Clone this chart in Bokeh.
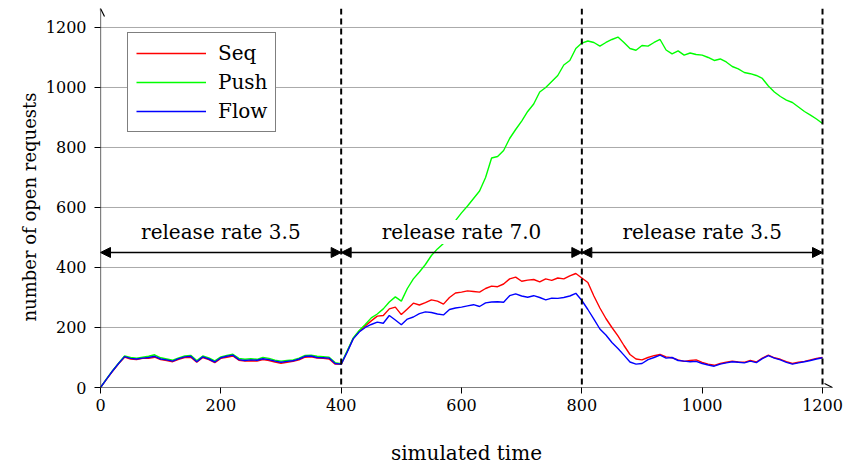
from bokeh.plotting import figure
from bokeh.models import Range1d, Span, Arrow, NormalHead, OpenHead, Label, FixedTicker, Title
from bokeh.embed import file_html
from bokeh.resources import INLINE

# ---- data ----
time = list(range(0, 1201, 10))

flow = [0, 28, 55, 80, 103, 97, 95, 98, 100, 104,
        95, 92, 88, 96, 102, 104, 86, 102, 95, 85,
        99, 104, 108, 93, 90, 92, 91, 96, 93, 88,
        84, 87, 89, 95, 104, 105, 100, 99, 98, 80,
        78, 118, 162, 185, 200, 210, 218, 214, 240, 225,
        209, 228, 235, 246, 252, 250, 245, 242, 260, 265,
        268, 272, 276, 270, 282, 285, 286, 284, 306, 312,
        305, 301, 306, 300, 292, 298, 297, 300, 305, 314,
        290, 260, 228, 195, 175, 150, 130, 108, 85, 78,
        80, 93, 100, 108, 98, 100, 90, 88, 86, 87,
        80, 75, 71, 78, 82, 86, 84, 82, 88, 83,
        96, 106, 98, 92, 84, 78, 82, 86, 90, 95,
        99]

seq = [0, 27, 54, 79, 101, 95, 93, 97, 97, 101,
       93, 90, 86, 94, 100, 101, 84, 100, 93, 83,
       97, 101, 105, 91, 88, 89, 88, 93, 90, 85,
       81, 84, 87, 92, 101, 102, 98, 97, 95, 78,
       77, 120, 163, 188, 205, 222, 238, 240, 262, 268,
       243, 262, 281, 275, 283, 292, 288, 278, 300, 315,
       318, 322, 320, 318, 330, 338, 336, 345, 362, 368,
       354, 358, 360, 352, 362, 357, 365, 362, 372, 380,
       365, 350, 305, 265, 230, 200, 172, 140, 110, 95,
       92, 100, 106, 110, 102, 99, 92, 87, 90, 92,
       84, 78, 74, 80, 84, 88, 85, 84, 90, 85,
       98, 108, 99, 94, 86, 80, 84, 87, 92, 97,
       100]

push = [0, 29, 56, 81, 105, 100, 98, 101, 104, 109,
        99, 95, 91, 99, 105, 107, 90, 105, 99, 89,
        102, 107, 111, 97, 94, 96, 94, 100, 97, 91,
        88, 90, 92, 98, 107, 108, 104, 103, 101, 83,
        79, 122, 165, 190, 210, 232, 245, 262, 285, 302,
        288, 330, 362, 385, 410, 440, 462, 480, 520, 556,
        582, 605, 630, 655, 700, 765, 770, 790, 830, 860,
        888, 920, 945, 985, 1000, 1020, 1040, 1075, 1090, 1130,
        1148, 1155, 1150, 1138, 1150, 1160, 1168, 1150, 1130, 1124,
        1140, 1138, 1150, 1160, 1125, 1112, 1122, 1108, 1115, 1110,
        1108, 1100, 1090, 1095, 1085, 1070, 1062, 1050, 1046, 1040,
        1030, 1005, 985, 970, 958, 950, 935, 920, 908, 895,
        880]

x_ticks = [0, 200, 400, 600, 800, 1000, 1200]
y_ticks = [0, 200, 400, 600, 800, 1000, 1200]
grid_levels = [200, 400, 600, 800, 1000, 1200]
phase_bounds = [0, 400, 800, 1200]
phase_labels = ["release rate 3.5", "release rate 7.0", "release rate 3.5"]
arrow_level = 450
label_level = 518

FONT = "DejaVu Serif"
TXT = "20px"

X_END = 1216.6
Y_END = 1263.3

p = figure(width=847, height=467, output_backend="svg", toolbar_location=None,
           x_range=Range1d(0, X_END), y_range=Range1d(0, Y_END),
           min_border_left=100, min_border_right=15, min_border_top=8, min_border_bottom=79)
p.outline_line_color = None
p.xgrid.grid_line_color = None
p.ygrid.grid_line_color = None

# horizontal grid lines ending at x = 1200
p.segment(x0=[0] * len(grid_levels), x1=[phase_bounds[-1]] * len(grid_levels),
          y0=grid_levels, y1=grid_levels, line_color="#ababab", line_width=1)

# data lines
p.line(time, seq, line_color="#ff0000", line_width=1.4, legend_label="Seq")
p.line(time, push, line_color="#00ff00", line_width=1.4, legend_label="Push")
p.line(time, flow, line_color="#0000ff", line_width=1.4, legend_label="Flow")

# dashed phase separators
for b in phase_bounds[1:]:
    p.add_layout(Span(location=b, dimension="height", line_color="black",
                      line_dash="6 4", line_width=2))

# phase arrows and labels
for i, txt in enumerate(phase_labels):
    a, b = phase_bounds[i], phase_bounds[i + 1]
    p.add_layout(Arrow(x_start=a, x_end=b, y_start=arrow_level, y_end=arrow_level,
                       line_color="black", line_width=1.5,
                       start=NormalHead(size=10, fill_color="black", line_color="black"),
                       end=NormalHead(size=10, fill_color="black", line_color="black")))
    p.add_layout(Label(x=(a + b) / 2, y=label_level, text=txt, text_align="center",
                       text_baseline="middle", text_font=FONT, text_font_size=TXT,
                       text_color="black", background_fill_color="white", padding=0))

# axes
for ax in (p.xaxis[0], p.yaxis[0]):
    ax.axis_line_color = None
    ax.major_tick_in = 0
    ax.major_tick_out = 6
    ax.minor_tick_out = 0
    ax.minor_tick_in = 0
    ax.major_tick_line_color = "black"
    ax.major_label_text_font = FONT
    ax.major_label_text_font_size = "16px"
    ax.major_label_text_color = "black"
    ax.axis_label_text_font = FONT
    ax.axis_label_text_font_size = TXT
    ax.axis_label_text_font_style = "normal"
    ax.axis_label_text_color = "black"

p.xaxis.ticker = FixedTicker(ticks=x_ticks)
p.yaxis.ticker = FixedTicker(ticks=y_ticks)
p.xaxis.axis_label = "simulated time"
p.xaxis.axis_label_text_line_height = 1.0
p.xaxis.major_label_standoff = 5
p.yaxis.major_label_standoff = 8
p.xaxis.axis_label_standoff = 27

# y axis title on the left, starting 66 px above the frame bottom (as in the reference)
p.add_layout(Title(text="number of open requests", align="left", offset=66,
                   text_font=FONT, text_font_size="18px", text_font_style="normal",
                   text_color="black", standoff=6), "left")

# axis lines with open arrow heads
p.add_layout(Arrow(x_start=0, x_end=X_END, y_start=0, y_end=0, line_color="black",
                   line_width=1.2, end=OpenHead(size=8, line_color="black", line_width=1.2)))
p.add_layout(Arrow(x_start=0, x_end=0, y_start=0, y_end=Y_END, line_color="black",
                   line_width=1.2, end=OpenHead(size=8, line_color="black", line_width=1.2)))

# legend
lg = p.legend[0]
lg.location = (27, 255)
lg.margin = 0
lg.padding = 8
lg.spacing = 5
lg.glyph_width = 70
lg.glyph_height = 20
lg.label_height = 20
lg.label_standoff = 12
lg.label_text_font = FONT
lg.label_text_font_size = TXT
lg.label_text_color = "black"
lg.border_line_color = "black"
lg.border_line_width = 1.2
lg.background_fill_color = "white"
lg.background_fill_alpha = 1

open("out.html", "w").write(file_html(p, INLINE))
